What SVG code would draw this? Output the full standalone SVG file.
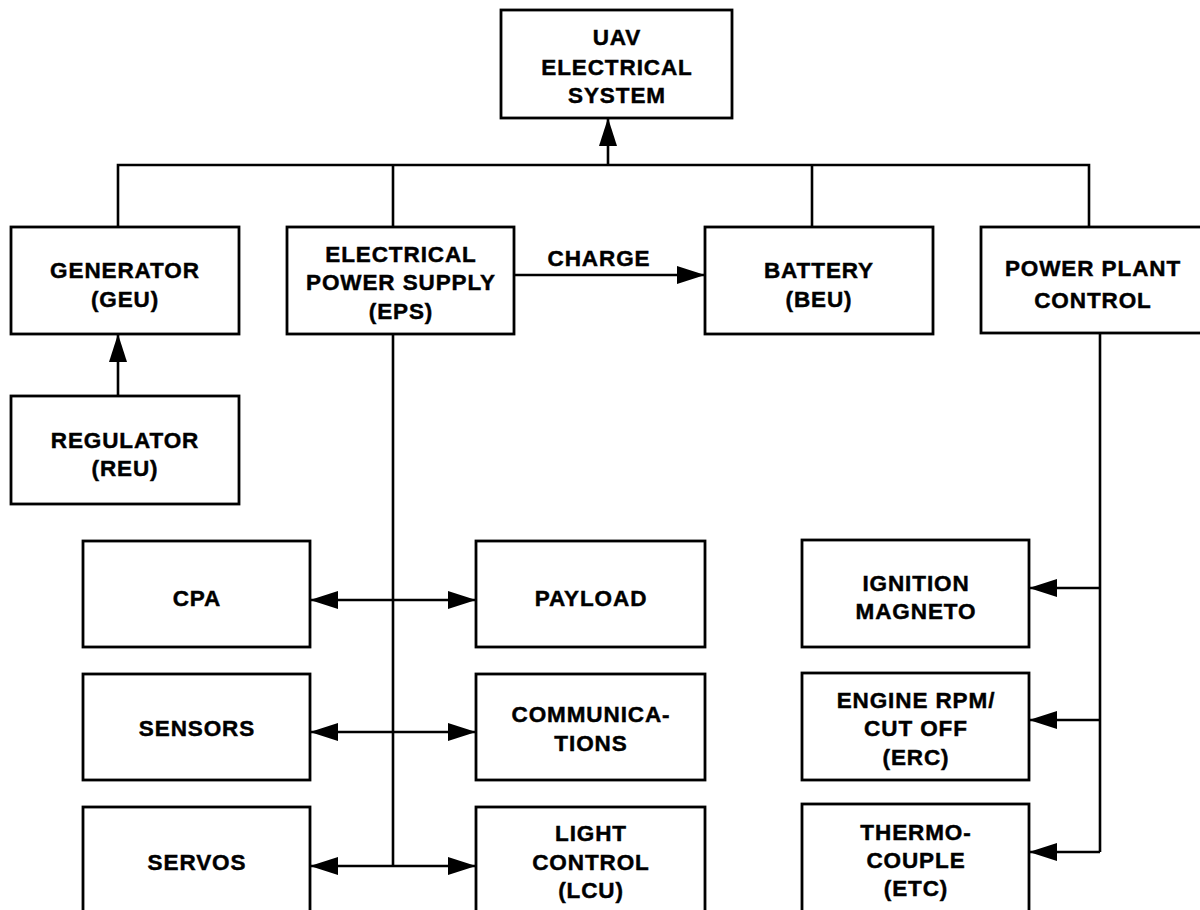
<svg xmlns="http://www.w3.org/2000/svg" width="1200" height="910" viewBox="0 0 1200 910">
<style>
.box{fill:#fff;stroke:#000;stroke-width:2.8}
.t{font-family:"Liberation Sans",Arial,Helvetica,sans-serif;font-weight:bold;font-size:22.5px;letter-spacing:0.9px;text-anchor:middle;fill:#000;stroke:#000;stroke-width:0.45}
.ln{fill:none;stroke:#000;stroke-width:2.6}
.ar{marker-end:url(#ah)}
.ar2{marker-end:url(#ah);marker-start:url(#ah)}
</style>
<defs>
<marker id="ah" viewBox="0 0 28 18" refX="27" refY="9" markerWidth="28" markerHeight="18" markerUnits="userSpaceOnUse" orient="auto-start-reverse">
<path d="M0,0 L28,9 L0,18 z" fill="#000"/>
</marker>
</defs>
<rect width="1200" height="910" fill="#fff"/>

<g id="connectors">
<polyline class="ln" points="118,227 118,165 1089,165 1089,227"/>
<line class="ln" x1="393" y1="165" x2="393" y2="227"/>
<line class="ln" x1="812" y1="165" x2="812" y2="227"/>
<line class="ln ar" x1="608" y1="165" x2="608" y2="119"/>
<line class="ln ar" x1="118" y1="396" x2="118" y2="335"/>
<line class="ln ar" x1="514" y1="275" x2="704" y2="275"/>
<line class="ln" x1="393" y1="334" x2="393" y2="866"/>
<line class="ln ar2" x1="311" y1="600" x2="475" y2="600"/>
<line class="ln ar2" x1="311" y1="732" x2="475" y2="732"/>
<line class="ln ar2" x1="311" y1="866" x2="475" y2="866"/>
<line class="ln" x1="1100" y1="333" x2="1100" y2="852"/>
<line class="ln ar" x1="1100" y1="588" x2="1030" y2="588"/>
<line class="ln ar" x1="1100" y1="720" x2="1030" y2="720"/>
<line class="ln ar" x1="1100" y1="852" x2="1030" y2="852"/>
<text class="t" x="599" y="266">CHARGE</text>
</g>

<g id="uav">
<rect class="box" x="501" y="10" width="231" height="108"/>
<text class="t" x="617" y="45">UAV</text>
<text class="t" x="617" y="75">ELECTRICAL</text>
<text class="t" x="617" y="103">SYSTEM</text>
</g>

<g id="geu">
<rect class="box" x="11" y="227" width="228" height="107"/>
<text class="t" x="125" y="278">GENERATOR</text>
<text class="t" x="125" y="307">(GEU)</text>
</g>

<g id="eps">
<rect class="box" x="287" y="227" width="227" height="107"/>
<text class="t" x="401" y="262">ELECTRICAL</text>
<text class="t" x="401" y="290">POWER SUPPLY</text>
<text class="t" x="401" y="319">(EPS)</text>
</g>

<g id="beu">
<rect class="box" x="705" y="227" width="228" height="107"/>
<text class="t" x="819" y="278">BATTERY</text>
<text class="t" x="819" y="307">(BEU)</text>
</g>

<g id="ppc">
<rect class="box" x="981" y="227" width="224" height="106"/>
<text class="t" x="1093" y="276">POWER PLANT</text>
<text class="t" x="1093" y="308">CONTROL</text>
</g>

<g id="reu">
<rect class="box" x="11" y="396" width="228" height="108"/>
<text class="t" x="125" y="448">REGULATOR</text>
<text class="t" x="125" y="476">(REU)</text>
</g>

<g id="cpa">
<rect class="box" x="83" y="541" width="227" height="106"/>
<text class="t" x="197" y="606">CPA</text>
</g>

<g id="payload">
<rect class="box" x="476" y="541" width="229" height="106"/>
<text class="t" x="591" y="606">PAYLOAD</text>
</g>

<g id="sensors">
<rect class="box" x="83" y="674" width="227" height="106"/>
<text class="t" x="197" y="736">SENSORS</text>
</g>

<g id="comms">
<rect class="box" x="476" y="674" width="229" height="106"/>
<text class="t" x="591" y="722">COMMUNICA-</text>
<text class="t" x="591" y="751">TIONS</text>
</g>

<g id="servos">
<rect class="box" x="83" y="807" width="227" height="110"/>
<text class="t" x="197" y="870">SERVOS</text>
</g>

<g id="lcu">
<rect class="box" x="476" y="807" width="229" height="110"/>
<text class="t" x="591" y="841">LIGHT</text>
<text class="t" x="591" y="870">CONTROL</text>
<text class="t" x="591" y="898">(LCU)</text>
</g>

<g id="ignition">
<rect class="box" x="802" y="540" width="227" height="107"/>
<text class="t" x="916" y="591">IGNITION</text>
<text class="t" x="916" y="619">MAGNETO</text>
</g>

<g id="erc">
<rect class="box" x="802" y="673" width="227" height="107"/>
<text class="t" x="916" y="708">ENGINE RPM/</text>
<text class="t" x="916" y="736">CUT OFF</text>
<text class="t" x="916" y="765">(ERC)</text>
</g>

<g id="etc">
<rect class="box" x="802" y="804" width="227" height="112"/>
<text class="t" x="916" y="840">THERMO-</text>
<text class="t" x="916" y="868">COUPLE</text>
<text class="t" x="916" y="896">(ETC)</text>
</g>
</svg>
